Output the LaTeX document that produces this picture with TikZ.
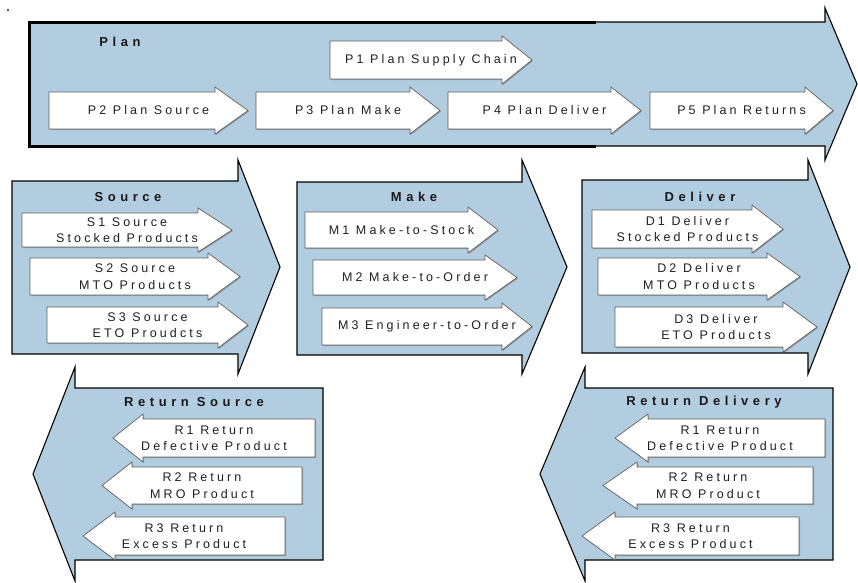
\documentclass[tikz,border=0pt]{standalone}
\usepackage{fontspec}
\setmainfont{Liberation Sans}
\newfontfamily\lblfont[LetterSpace=25]{Liberation Sans}
\newfontfamily\ttlfont[LetterSpace=35]{Liberation Sans}
\usetikzlibrary{shadows}
\definecolor{scorblue}{RGB}{179,205,224}
\definecolor{edgegray}{RGB}{95,95,95}
\definecolor{txtgray}{RGB}{32,32,32}

\tikzset{
  bigarrow/.style={fill=scorblue, draw=black, line width=1.1pt, line join=miter},
  planframe/.style={draw=black, line width=3pt},
  subarrow/.style={fill=white, draw=edgegray, line width=0.7pt,
    drop shadow={shadow xshift=1pt, shadow yshift=-1pt, opacity=0.4, fill=black!70}},
  subtext/.style={font=\lblfont\fontsize{12.5}{16.5}\selectfont, text=txtgray,
    align=center, inner sep=0pt},
  titletext/.style={font=\ttlfont\bfseries\fontsize{13}{15}\selectfont,
    text=black!90, inner sep=0pt},
}

% white process arrow: name, tail x, head base x, top y, bottom y, tip x, label
\newcommand\SubArrow[7]{%
  \draw[subarrow] (#2,#4) -- (#3,#4) -- (#3,{#4-5}) -- (#6,{(#4+#5)/2})
    -- (#3,{#5+5}) -- (#3,#5) -- (#2,#5) -- cycle;
  \node[subtext] (#1) at ({(#2+#6)/2},{(#4+#5)/2}) {#7};}

\begin{document}
\begin{tikzpicture}[x=1pt, y=-1pt]
\useasboundingbox (0,0) rectangle (858,582);

\fill (8,10) circle (1pt);

% Plan band
\draw[bigarrow] (29,22) -- (825,22) -- (825,8) -- (857,84) -- (825,160)
  -- (825,146) -- (29,146) -- cycle;
\draw[planframe] (29,22) -- (596,22) (29,146) -- (596,146) (29,20.5) -- (29,147.5);

% execution blocks
\draw[bigarrow] (12,181) -- (238,181) -- (238,160) -- (280,267) -- (238,374)
  -- (238,354) -- (12,354) -- cycle;
\draw[bigarrow] (297,182) -- (522,182) -- (522,160) -- (567,267) -- (522,374)
  -- (522,355) -- (297,355) -- cycle;
\draw[bigarrow] (582,180) -- (808,180) -- (808,160) -- (850,267) -- (808,374)
  -- (808,353) -- (582,353) -- cycle;

% return blocks
\draw[bigarrow] (323,388) -- (75,388) -- (75,367) -- (33,474) -- (75,581)
  -- (75,560) -- (323,560) -- cycle;
\draw[bigarrow] (833,388) -- (585,388) -- (585,367) -- (540,474) -- (585,581)
  -- (585,560) -- (833,560) -- cycle;

% titles
\node[titletext] (tplan) at (120,42) {Plan};
\node[titletext] (tsource) at (128,197) {Source};
\node[titletext] (tmake) at (414,197) {Make};
\node[titletext] (tdeliver) at (700,197) {Deliver};
\node[titletext] (trs) at (194,402) {Return Source};
\node[titletext] (trd) at (704,402) {Return Delivery};

% plan processes
\SubArrow{p1}{330}{502}{41}{79}{532}{P1 Plan Supply Chain}
\SubArrow{p2}{49}{215}{92}{129}{248}{P2 Plan Source}
\SubArrow{p3}{256}{410}{92}{129}{440}{P3 Plan Make}
\SubArrow{p4}{448}{611}{92}{129}{641}{P4 Plan Deliver}
\SubArrow{p5}{650}{805}{92}{129}{833}{P5 Plan Returns}

% source processes
\SubArrow{s1}{22}{198}{213}{247}{232}{S1 Source\\Stocked Products}
\SubArrow{s2}{30}{208}{258}{295}{240}{S2 Source\\MTO Products}
\SubArrow{s3}{47}{218}{307}{343}{248}{S3 Source\\ETO Proudcts}

% make processes
\SubArrow{m1}{305}{468}{212}{248}{498}{M1 Make-to-Stock}
\SubArrow{m2}{313}{485}{260}{295}{517}{M2 Make-to-Order}
\SubArrow{m3}{322}{502}{308}{345}{532}{M3 Engineer-to-Order}

% deliver processes
\SubArrow{d1}{592}{752}{210}{248}{783}{D1 Deliver\\Stocked Products}
\SubArrow{d2}{598}{767}{258}{295}{800}{D2 Deliver\\MTO Products}
\SubArrow{d3}{615}{783}{307}{347}{817}{D3 Deliver\\ETO Products}

% return source processes
\SubArrow{rs1}{315}{143}{419}{457}{113}{R1 Return\\Defective Product}
\SubArrow{rs2}{302}{132}{467}{504}{102}{R2 Return\\MRO Product}
\SubArrow{rs3}{285}{115}{517}{555}{83}{R3 Return\\Excess Product}

% return delivery processes
\SubArrow{rd1}{825}{648}{419}{457}{615}{R1 Return\\Defective Product}
\SubArrow{rd2}{813}{637}{467}{504}{603}{R2 Return\\MRO Product}
\SubArrow{rd3}{799}{615}{517}{555}{582}{R3 Return\\Excess Product}
\end{tikzpicture}
\end{document}
